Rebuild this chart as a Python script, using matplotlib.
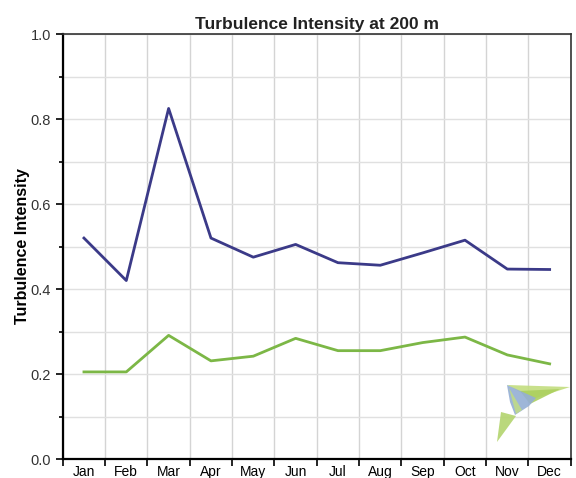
import numpy as np
import matplotlib
matplotlib.use('Agg')
import matplotlib.pyplot as plt
from matplotlib.patches import Polygon
from matplotlib.ticker import MultipleLocator, FixedLocator

months = ['Jan', 'Feb', 'Mar', 'Apr', 'May', 'Jun', 'Jul', 'Aug', 'Sep', 'Oct', 'Nov', 'Dec']
ti_upper = [0.52, 0.42, 0.825, 0.52, 0.475, 0.505, 0.462, 0.456, 0.485, 0.515, 0.447, 0.446]
ti_lower = [0.205, 0.205, 0.291, 0.231, 0.242, 0.284, 0.255, 0.255, 0.274, 0.287, 0.245, 0.224]

plt.rcParams['font.family'] = ['Liberation Sans', 'DejaVu Sans']

fig = plt.figure(figsize=(5.76, 4.78), dpi=100)
ax = fig.add_axes([0.109, 0.0397, 0.882, 0.889])

x = np.arange(len(months))
ax.plot(x, ti_upper, color='#3b3a88', lw=2)
ax.plot(x, ti_lower, color='#7cb746', lw=2)

ax.set_xlim(-0.5, len(months) - 0.5)
ax.set_ylim(0, 1.0)

# month boundaries carry the ticks and grid, labels sit in the middle
ax.xaxis.set_major_locator(FixedLocator(np.arange(-0.5, len(months), 1.0)))
ax.xaxis.set_minor_locator(FixedLocator(x))
ax.set_xticklabels([])
ax.set_xticklabels(months, minor=True)
ax.tick_params(axis='x', which='minor', length=0, pad=4, labelsize=10)
ax.tick_params(axis='x', which='major', length=5, width=1.2, direction='out')

ax.yaxis.set_major_locator(MultipleLocator(0.2))
ax.yaxis.set_minor_locator(MultipleLocator(0.1))
ax.set_yticklabels([f'{v:.1f}' for v in ax.get_yticks()])
ax.tick_params(axis='y', which='major', length=5, width=1.2, labelsize=10.5)
ax.tick_params(axis='y', which='minor', length=3, width=1.2)
ax.tick_params(labelcolor='#333333')

ax.grid(True, which='major', axis='x', color='#d4d4d4', lw=1)
ax.grid(True, which='both', axis='y', color='#e0e0e0', lw=1)
ax.set_axisbelow(True)

for side in ['left', 'bottom']:
    ax.spines[side].set_linewidth(1.6)
for side in ['top', 'right']:
    ax.spines[side].set_linewidth(1.2)
    ax.spines[side].set_color('#333333')

ax.set_ylabel('Turbulence Intensity', fontsize=11.5, fontweight='bold', labelpad=0)
ax.set_title('Turbulence Intensity at 200 m', fontsize=12.5, fontweight='bold',
             color='#222222', pad=4)

# faint logo watermark in the lower right corner
W, H = 576, 478
def px(pts):
    return [(a / W, 1 - b / H) for a, b in pts]

logo = [
    ([(507, 385), (570, 387), (533, 399)], '#c2dd7e'),
    ([(520, 391), (560, 389), (530, 404)], '#acd05e'),
    ([(507, 385), (536, 398), (529, 406), (515, 415), (510, 402)], '#94aed4'),
    ([(501, 412), (497, 442), (516, 416)], '#b3d46e'),
    ([(509, 388), (522, 410), (516, 414)], '#c0da88'),
]
for pts, c in logo:
    fig.patches.append(Polygon(px(pts), closed=True, transform=fig.transFigure,
                               facecolor=c, edgecolor='none', alpha=0.9))

plt.savefig('out.png', dpi=100)
plt.close()
